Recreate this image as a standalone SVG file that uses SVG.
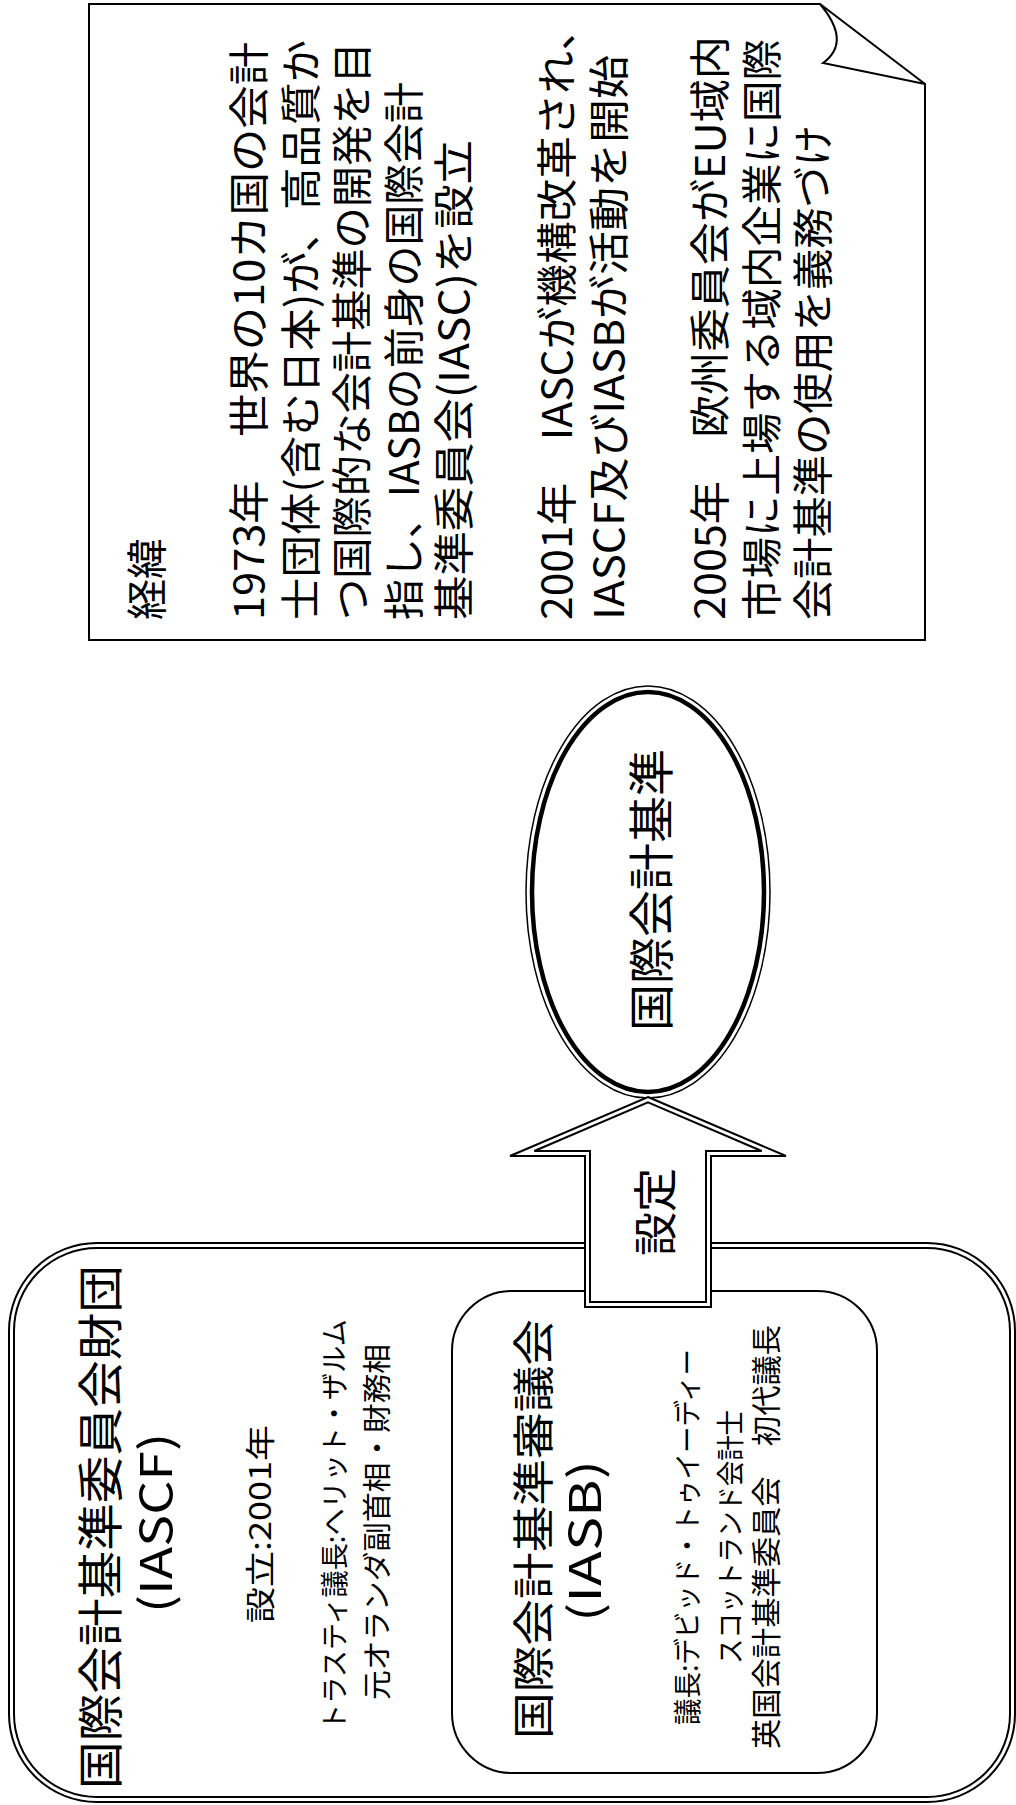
<svg xmlns="http://www.w3.org/2000/svg" width="1016" height="1805" viewBox="0 0 1016 1805">
<style>
.t{font-family:"Noto Sans CJK JP","Noto Sans CJK SC",sans-serif;dominant-baseline:central;fill:#000}
.ln{fill:none;stroke:#000;stroke-width:2}
.wf{fill:#fff;stroke:#000;stroke-width:2}
</style>
<rect width="1016" height="1805" fill="#fff"/>

<g id="note">
<path class="wf" d="M89 4 L820 4 L925 84 L925 640 L89 640 Z"/>
<path class="ln" d="M820 4 Q852 42 823 63 L925 84"/>
<g font-size="41">
<text class="t" transform="translate(144,620) rotate(-90)">経緯</text>
<text class="t" transform="translate(246,620) rotate(-90)" textLength="578" lengthAdjust="spacingAndGlyphs">1973年　世界の10カ国の会計</text>
<text class="t" transform="translate(298,620) rotate(-90)" textLength="580" lengthAdjust="spacingAndGlyphs">士団体(含む日本)が、高品質か</text>
<text class="t" transform="translate(349,620) rotate(-90)" textLength="578" lengthAdjust="spacingAndGlyphs">つ国際的な会計基準の開発を目</text>
<text class="t" transform="translate(401,620) rotate(-90)" textLength="538" lengthAdjust="spacingAndGlyphs">指し、IASBの前身の国際会計</text>
<text class="t" transform="translate(451,620) rotate(-90)" textLength="480" lengthAdjust="spacingAndGlyphs">基準委員会(IASC)を設立</text>
<text class="t" transform="translate(554,620) rotate(-90)" textLength="612" lengthAdjust="spacingAndGlyphs">2001年　IASCが機構改革され、</text>
<text class="t" transform="translate(606,620) rotate(-90)" textLength="565" lengthAdjust="spacingAndGlyphs">IASCF及びIASBが活動を開始</text>
<text class="t" transform="translate(707,620) rotate(-90)" textLength="584" lengthAdjust="spacingAndGlyphs">2005年　欧州委員会がEU域内</text>
<text class="t" transform="translate(759,620) rotate(-90)" textLength="581" lengthAdjust="spacingAndGlyphs">市場に上場する域内企業に国際</text>
<text class="t" transform="translate(810,620) rotate(-90)" textLength="495" lengthAdjust="spacingAndGlyphs">会計基準の使用を義務づけ</text>
</g>
</g>

<g id="iascf">
<rect class="wf" x="9" y="1243" width="1006" height="559" rx="88" ry="88"/>
<rect class="ln" x="14" y="1248" width="996" height="549" rx="83" ry="83"/>
<text class="t" font-size="46" text-anchor="middle" transform="translate(97,1527) rotate(-90)" textLength="524" lengthAdjust="spacingAndGlyphs">国際会計基準委員会財団</text>
<text class="t" font-size="44" text-anchor="middle" transform="translate(153,1523) rotate(-90)" textLength="180" lengthAdjust="spacingAndGlyphs">(IASCF)</text>
<text class="t" font-size="30" text-anchor="middle" transform="translate(258,1524) rotate(-90)" textLength="198" lengthAdjust="spacingAndGlyphs">設立:2001年</text>
<text class="t" font-size="28" text-anchor="middle" transform="translate(333,1525) rotate(-90)" textLength="412" lengthAdjust="spacingAndGlyphs">トラスティ議長:ヘリット・ザルム</text>
<text class="t" font-size="29" text-anchor="middle" transform="translate(375,1522) rotate(-90)" textLength="356" lengthAdjust="spacingAndGlyphs">元オランダ副首相・財務相</text>
</g>

<g id="iasb">
<rect class="ln" x="452" y="1291" width="425" height="482" rx="60" ry="60"/>
<text class="t" font-size="42" text-anchor="middle" transform="translate(530,1529) rotate(-90)" textLength="420" lengthAdjust="spacingAndGlyphs">国際会計基準審議会</text>
<text class="t" font-size="44" text-anchor="middle" transform="translate(582,1541) rotate(-90)" textLength="162" lengthAdjust="spacingAndGlyphs">(IASB)</text>
<text class="t" font-size="28" text-anchor="middle" transform="translate(686,1537) rotate(-90)" textLength="376" lengthAdjust="spacingAndGlyphs">議長:デビッド・トゥイーディー</text>
<text class="t" font-size="28" text-anchor="middle" transform="translate(729,1537) rotate(-90)" textLength="254" lengthAdjust="spacingAndGlyphs">スコットランド会計士</text>
<text class="t" font-size="30" text-anchor="middle" transform="translate(764,1537) rotate(-90)" textLength="424" lengthAdjust="spacingAndGlyphs">英国会計基準委員会　初代議長</text>
</g>

<g id="ias">
<ellipse cx="648" cy="892" rx="122" ry="206" fill="#fff" stroke="#000" stroke-width="1.5"/>
<ellipse cx="648" cy="892" rx="116" ry="200" fill="none" stroke="#000" stroke-width="4.5"/>
<text class="t" font-size="46" text-anchor="middle" transform="translate(648,890) rotate(-90)" textLength="282" lengthAdjust="spacingAndGlyphs">国際会計基準</text>
</g>

<g id="connectors">
<path class="wf" d="M648 1097 L786 1156 L711 1156 L711 1307 L585 1307 L585 1156 L510 1156 Z"/>
<path class="ln" d="M648 1102.4 L761.7 1151 L706 1151 L706 1302 L590 1302 L590 1151 L534.3 1151 Z"/>
<text class="t" font-size="44" text-anchor="middle" transform="translate(653,1212) rotate(-90)">設定</text>
</g>
</svg>
